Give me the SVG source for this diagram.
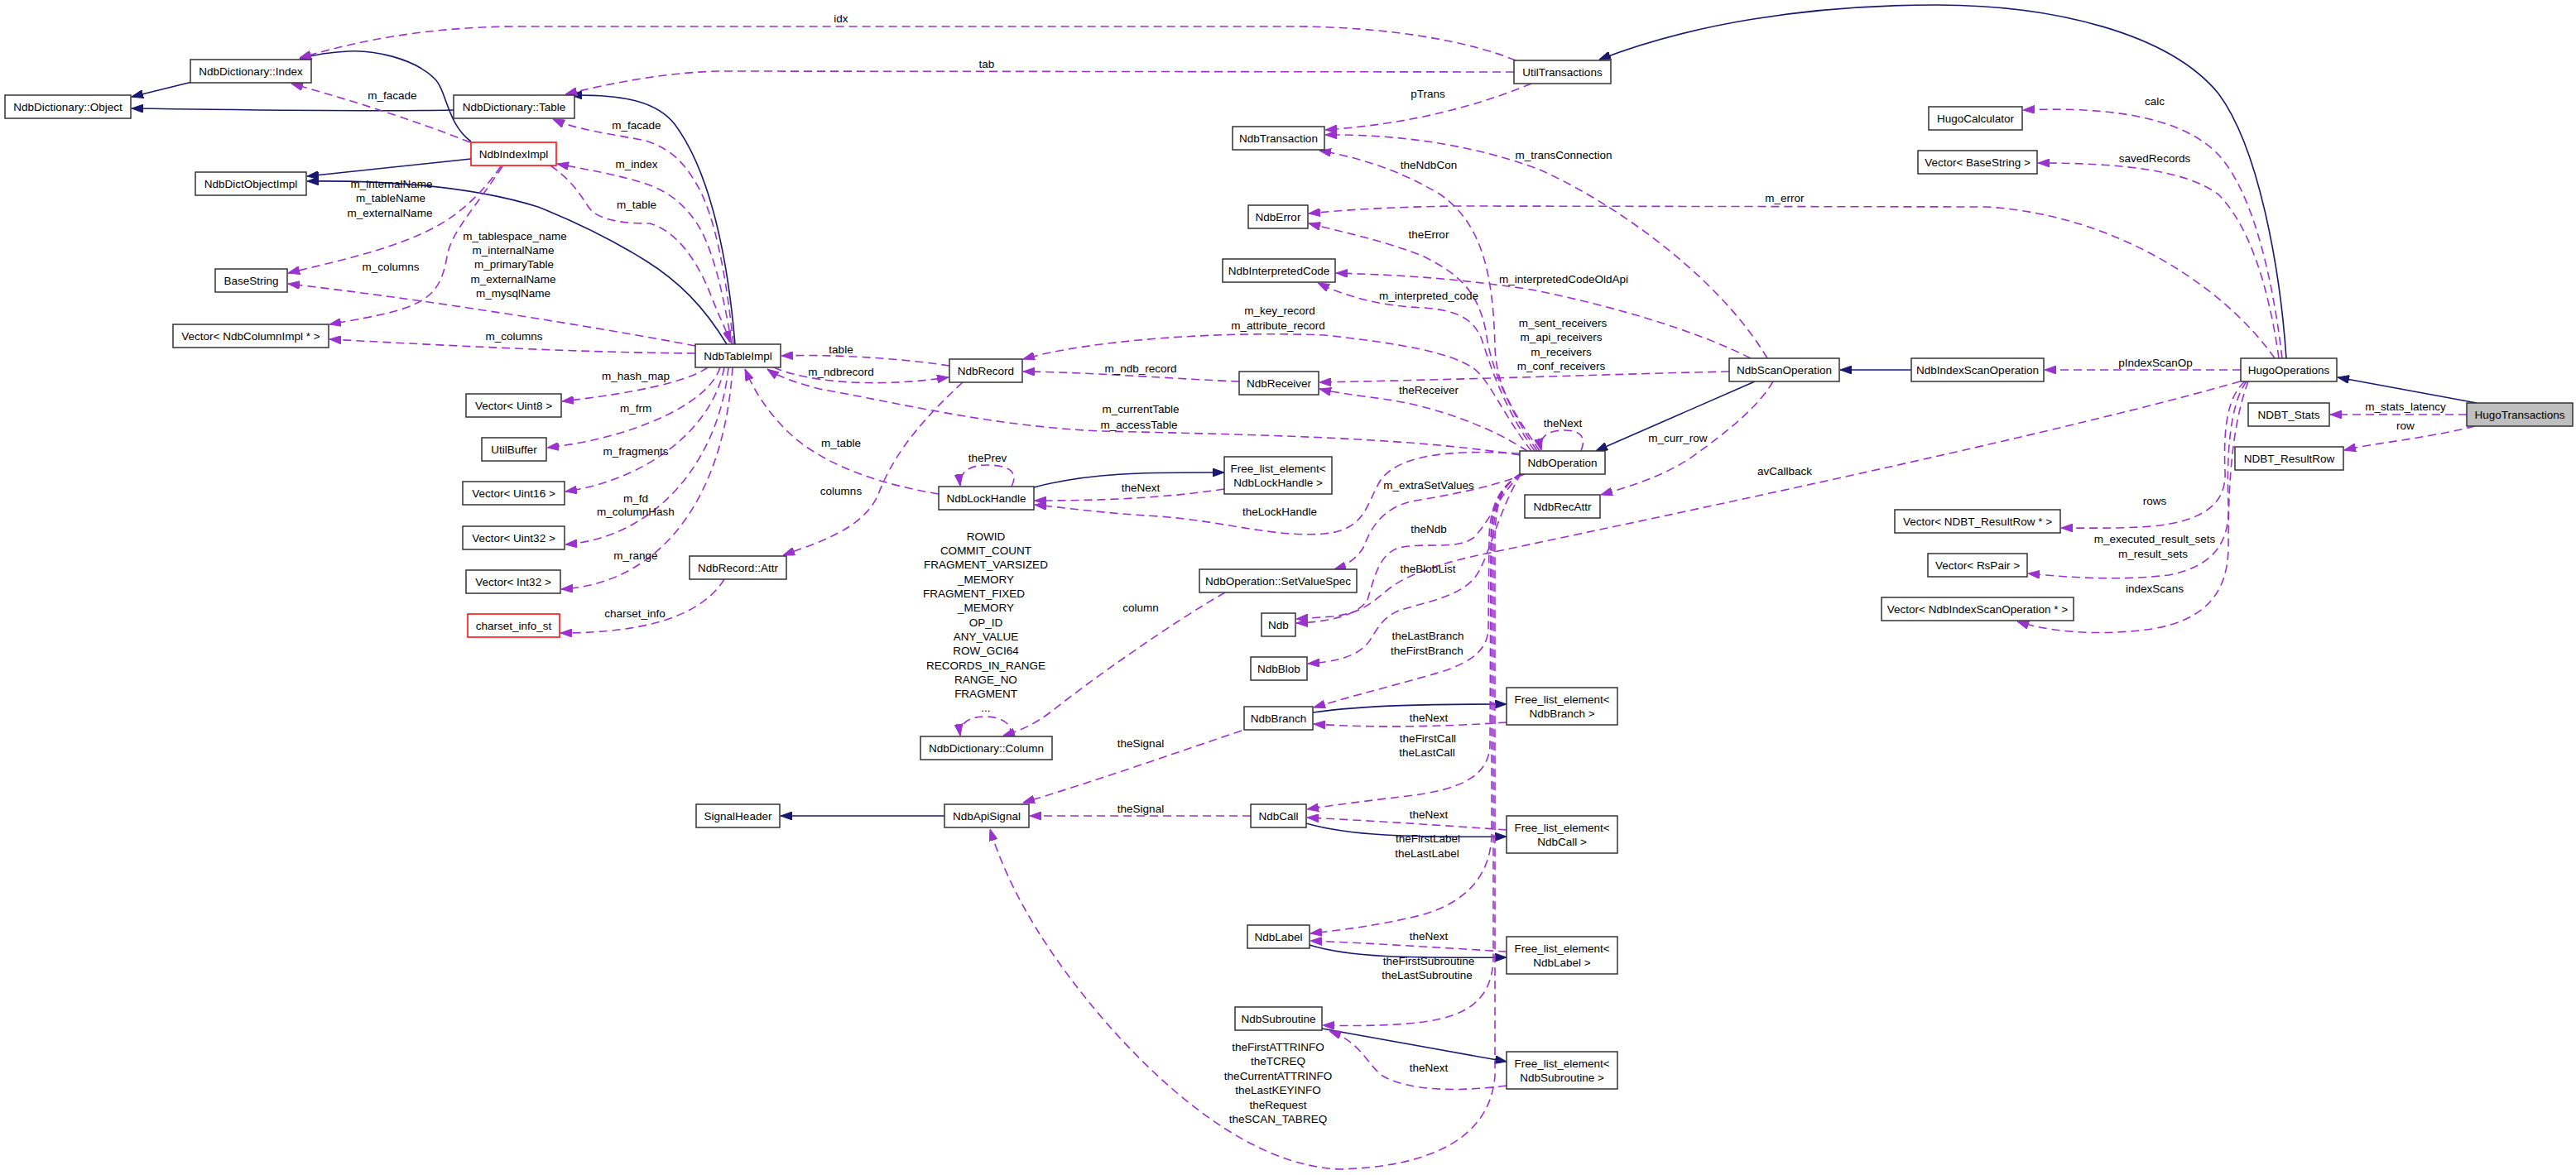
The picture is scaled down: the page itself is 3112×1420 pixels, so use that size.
<svg xmlns="http://www.w3.org/2000/svg" width="3112" height="1420" viewBox="0 0 3112 1420">
<style>
text{font-family:"Liberation Sans",Arial,sans-serif;font-size:13.5px;fill:#000}
.n text{text-anchor:middle}
.n rect{fill:#fff;stroke:#333;stroke-width:1.5}
.n.red rect{stroke:#ff0000}
.n.cur rect{fill:#bfbfbf}
.inh{fill:none;stroke:#191970;stroke-width:1.6;marker-end:url(#ah)}
.use{fill:none;stroke:#9a32cd;stroke-width:1.6;stroke-dasharray:10,6;marker-end:url(#ad)}
.lbl text{text-anchor:middle}
</style>
<defs>
<marker id="ah" viewBox="0 0 14 10" refX="14" refY="5" markerWidth="14" markerHeight="10" markerUnits="userSpaceOnUse" orient="auto"><path d="M0,0 L14,5 L0,10 z" fill="#191970" stroke="#191970" stroke-width="1"/></marker>
<marker id="ad" viewBox="0 0 14 10" refX="14" refY="5" markerWidth="14" markerHeight="10" markerUnits="userSpaceOnUse" orient="auto"><path d="M0,0 L14,5 L0,10 z" fill="#9a32cd" stroke="#9a32cd" stroke-width="1"/></marker>
</defs>
<rect width="3112" height="1420" fill="#fff"/>

<g id="edges">
<!-- inheritance -->
<path class="inh" d="M232,99 L159,117"/>
<path class="inh" d="M548,133 C450,135 300,133 159,131"/>
<path class="inh" d="M569,171 C540,150 540,110 525,95 C500,70 450,60 420,62 C400,63 380,66 362,71"/>
<path class="inh" d="M569,192 L371,213"/>
<path class="inh" d="M878,416 C850,370 820,340 780,315 C740,290 700,270 650,250 C570,225 470,218 371,219"/>
<path class="inh" d="M888,416 C880,320 860,210 815,150 C795,125 760,114 689,115"/>
<path class="inh" d="M2762,433 C2755,330 2730,180 2680,113 C2620,40 2480,6 2340,6 C2180,6 2040,30 1932,72"/>
<path class="inh" d="M2992,487 L2824,456"/>
<path class="inh" d="M2309,447 L2223,447"/>
<path class="inh" d="M2120,461 L1928,545"/>
<path class="inh" d="M1249,589 C1320,570 1390,571 1479,571"/>
<path class="inh" d="M1586,861 C1650,852 1730,851 1820,851"/>
<path class="inh" d="M1578,995 C1630,1010 1700,1012 1820,1011"/>
<path class="inh" d="M1582,1142 C1630,1157 1700,1158 1820,1157"/>
<path class="inh" d="M1597,1243 L1820,1283"/>
<path class="inh" d="M1141,986 L943,986"/>

<!-- usage -->
<path class="use" d="M1831,73 C1770,48 1670,32 1560,32 L620,32 C520,33 440,47 362,70"/>
<path class="use" d="M1829,87 L870,86 C820,87 760,95 683,114"/>
<path class="use" d="M568,172 C500,145 420,120 352,101"/>
<path class="use" d="M886,416 C878,340 865,260 840,220 C825,195 810,180 780,170 C740,162 700,158 668,144"/>
<path class="use" d="M884,416 C876,370 865,310 845,275 C830,250 810,232 780,222 C750,212 710,205 673,198"/>
<path class="use" d="M665,200 C700,225 705,245 715,255 C730,268 760,270 785,270 C820,280 845,320 860,360 C872,390 878,400 882,414"/>
<path class="use" d="M605,201 C585,230 560,255 530,272 C480,300 410,315 348,330"/>
<path class="use" d="M607,201 C575,250 545,280 540,310 C533,350 520,365 470,378 C440,385 420,388 398,392"/>
<path class="use" d="M840,418 C720,395 500,360 348,343"/>
<path class="use" d="M840,427 C700,426 550,418 398,410"/>
<path class="use" d="M855,444 C830,462 760,476 679,485"/>
<path class="use" d="M870,444 C855,490 760,530 661,541"/>
<path class="use" d="M875,444 C860,520 780,580 683,594"/>
<path class="use" d="M880,444 C868,560 790,650 683,658"/>
<path class="use" d="M885,444 C875,600 800,705 678,712"/>
<path class="use" d="M875,700 C850,740 790,765 677,765"/>
<path class="use" d="M1147,442 C1080,432 1000,428 944,430"/>
<path class="use" d="M935,444 C970,460 1050,470 1146,456"/>
<path class="use" d="M1163,462 C1100,520 1075,560 1060,600 C1040,640 990,655 946,671"/>
<path class="use" d="M1134,597 C1060,585 990,560 950,520 C925,495 910,470 900,446"/>
<path class="use" d="M1222,588 C1232,568 1215,562 1192,562 C1170,562 1158,572 1160,587"/>
<path class="use" d="M1479,591 C1400,603 1320,605 1250,605"/>
<path class="use" d="M1836,550 C1700,528 1500,525 1330,521 C1200,515 1100,490 990,470 C960,462 940,455 927,446"/>
<path class="use" d="M1836,548 C1750,543 1690,550 1668,580 C1650,610 1650,640 1600,645 C1540,650 1480,630 1400,624 C1330,620 1290,614 1250,610"/>
<path class="use" d="M1480,716 C1420,750 1320,820 1270,860 C1250,875 1235,882 1212,889"/>
<path class="use" d="M1220,890 C1225,875 1210,866 1190,866 C1170,866 1158,875 1160,889"/>
<path class="use" d="M1850,101 C1780,130 1700,150 1601,157"/>
<path class="use" d="M2135,433 C2080,340 1960,250 1860,205 C1780,175 1690,162 1601,163"/>
<path class="use" d="M1860,545 C1830,500 1808,470 1806,420 C1804,330 1790,270 1740,235 C1690,205 1640,190 1594,182"/>
<path class="use" d="M2748,433 C2690,350 2560,260 2400,250 L1760,249 C1680,250 1620,254 1581,258"/>
<path class="use" d="M1857,545 C1820,490 1800,440 1795,400 C1785,350 1760,330 1720,310 C1670,290 1620,280 1581,270"/>
<path class="use" d="M2115,433 C2050,400 1950,370 1850,350 C1750,335 1680,332 1614,330"/>
<path class="use" d="M1854,545 C1815,490 1800,440 1790,410 C1780,385 1760,375 1720,372 C1670,370 1630,360 1592,342"/>
<path class="use" d="M1850,545 C1815,500 1800,460 1780,445 C1750,425 1690,415 1600,405 C1480,400 1320,410 1236,434"/>
<path class="use" d="M1497,461 C1420,458 1320,450 1236,449"/>
<path class="use" d="M2089,449 C1950,452 1800,458 1594,462"/>
<path class="use" d="M1845,545 C1800,515 1730,490 1670,482 C1640,478 1610,474 1594,470"/>
<path class="use" d="M1910,545 C1918,525 1905,520 1890,520 C1870,520 1858,528 1862,544"/>
<path class="use" d="M2142,461 C2125,490 2090,520 2040,555 C2000,580 1960,590 1934,598"/>
<path class="use" d="M1842,573 C1800,590 1740,600 1710,605 C1670,612 1655,640 1648,660 C1640,675 1625,684 1612,688"/>
<path class="use" d="M1838,572 C1810,600 1800,630 1780,650 C1760,665 1720,655 1690,662 C1665,670 1660,700 1652,725 C1640,745 1600,752 1566,753"/>
<path class="use" d="M2706,461 C2500,520 2100,605 1800,668 C1740,680 1700,695 1680,710 C1660,725 1650,740 1610,745 L1566,748"/>
<path class="use" d="M1838,572 C1808,620 1798,680 1780,700 C1760,722 1720,728 1690,738 C1665,748 1660,770 1650,780 C1635,795 1610,800 1580,802"/>
<path class="use" d="M1838,572 C1812,588 1800,610 1799,650 L1798,760 C1797,790 1770,805 1720,818 C1670,832 1620,845 1587,855"/>
<path class="use" d="M1820,873 C1750,878 1660,880 1587,875"/>
<path class="use" d="M1500,883 C1420,910 1320,945 1236,970"/>
<path class="use" d="M1838,572 C1812,588 1802,610 1801,650 L1800,900 C1799,940 1760,955 1700,962 C1650,968 1610,973 1579,978"/>
<path class="use" d="M1820,1003 C1750,998 1660,992 1579,988"/>
<path class="use" d="M1511,986 L1244,986"/>
<path class="use" d="M1838,572 C1812,588 1803,610 1802,650 L1802,1010 C1800,1060 1770,1090 1720,1105 C1670,1118 1620,1124 1583,1128"/>
<path class="use" d="M1820,1150 C1750,1146 1660,1140 1583,1137"/>
<path class="use" d="M1838,572 C1812,588 1805,610 1804,650 L1804,1160 C1802,1210 1770,1228 1720,1235 C1680,1240 1630,1240 1598,1239"/>
<path class="use" d="M1820,1312 C1760,1320 1700,1318 1670,1300 C1650,1285 1645,1260 1606,1246"/>
<path class="use" d="M1838,572 C1812,588 1807,610 1806,650 L1806,1300 C1800,1380 1720,1410 1620,1413 C1520,1410 1420,1330 1340,1240 C1270,1160 1220,1080 1196,1002"/>
<path class="use" d="M2757,433 C2745,330 2720,230 2680,187 C2640,145 2560,128 2444,133"/>
<path class="use" d="M2753,433 C2740,340 2715,270 2680,235 C2640,205 2560,197 2462,197"/>
<path class="use" d="M2707,447 L2470,447"/>
<path class="use" d="M2712,461 C2690,480 2686,520 2688,570 C2690,610 2660,630 2600,636 C2560,639 2520,638 2490,638"/>
<path class="use" d="M2714,461 C2692,490 2690,560 2692,610 C2694,660 2670,685 2620,695 C2560,702 2500,698 2450,693"/>
<path class="use" d="M2716,461 C2694,520 2692,600 2692,660 C2692,720 2660,750 2600,760 C2530,770 2470,762 2437,751"/>
<path class="use" d="M2980,501 L2815,501"/>
<path class="use" d="M2990,515 C2930,530 2870,535 2832,544"/>
</g>

<g id="edge-labels" class="lbl">
<text x="1016" y="27">idx</text>
<text x="1192" y="82">tab</text>
<text x="474" y="120">m_facade</text>
<text x="769" y="156">m_facade</text>
<text x="769" y="203">m_index</text>
<text x="769" y="252">m_table</text>
<text x="473" y="227">m_internalName</text>
<text x="472" y="244">m_tableName</text>
<text x="471" y="262">m_externalName</text>
<text x="472" y="327">m_columns</text>
<text x="622" y="290">m_tablespace_name</text>
<text x="620" y="307">m_internalName</text>
<text x="621" y="324">m_primaryTable</text>
<text x="620" y="342">m_externalName</text>
<text x="620" y="359">m_mysqlName</text>
<text x="621" y="411">m_columns</text>
<text x="768" y="459">m_hash_map</text>
<text x="768" y="498">m_frm</text>
<text x="768" y="550">m_fragments</text>
<text x="768" y="607">m_fd</text>
<text x="768" y="623">m_columnHash</text>
<text x="768" y="676">m_range</text>
<text x="767" y="746">charset_info</text>
<text x="1016" y="427">table</text>
<text x="1016" y="454">m_ndbrecord</text>
<text x="1016" y="540">m_table</text>
<text x="1016" y="598">columns</text>
<text x="1193" y="558">thePrev</text>
<text x="1378" y="594">theNext</text>
<text x="1378" y="499">m_currentTable</text>
<text x="1376" y="518">m_accessTable</text>
<text x="1191" y="653">ROWID</text>
<text x="1191" y="670">COMMIT_COUNT</text>
<text x="1191" y="687">FRAGMENT_VARSIZED</text>
<text x="1191" y="705">_MEMORY</text>
<text x="1115" y="722" style="text-anchor:start">FRAGMENT_FIXED</text>
<text x="1191" y="739">_MEMORY</text>
<text x="1191" y="757">OP_ID</text>
<text x="1191" y="774">ANY_VALUE</text>
<text x="1191" y="791">ROW_GCI64</text>
<text x="1191" y="809">RECORDS_IN_RANGE</text>
<text x="1191" y="826">RANGE_NO</text>
<text x="1191" y="843">FRAGMENT</text>
<text x="1191" y="860">...</text>
<text x="1378" y="739">column</text>
<text x="1378" y="903">theSignal</text>
<text x="1378" y="982">theSignal</text>
<text x="1725" y="118">pTrans</text>
<text x="1889" y="192">m_transConnection</text>
<text x="1726" y="204">theNdbCon</text>
<text x="2156" y="244">m_error</text>
<text x="1726" y="288">theError</text>
<text x="1889" y="342">m_interpretedCodeOldApi</text>
<text x="1726" y="362">m_interpreted_code</text>
<text x="1546" y="380">m_key_record</text>
<text x="1544" y="398">m_attribute_record</text>
<text x="1378" y="450">m_ndb_record</text>
<text x="1888" y="395">m_sent_receivers</text>
<text x="1886" y="412">m_api_receivers</text>
<text x="1886" y="430">m_receivers</text>
<text x="1886" y="447">m_conf_receivers</text>
<text x="1726" y="476">theReceiver</text>
<text x="1888" y="516">theNext</text>
<text x="2027" y="534">m_curr_row</text>
<text x="1726" y="591">m_extraSetValues</text>
<text x="2156" y="574">avCallback</text>
<text x="1546" y="623">theLockHandle</text>
<text x="1726" y="644">theNdb</text>
<text x="1725" y="692">theBlobList</text>
<text x="1725" y="773">theLastBranch</text>
<text x="1724" y="791">theFirstBranch</text>
<text x="1726" y="872">theNext</text>
<text x="1725" y="897">theFirstCall</text>
<text x="1724" y="914">theLastCall</text>
<text x="1726" y="989">theNext</text>
<text x="1725" y="1018">theFirstLabel</text>
<text x="1724" y="1036">theLastLabel</text>
<text x="1726" y="1136">theNext</text>
<text x="1726" y="1166">theFirstSubroutine</text>
<text x="1724" y="1183">theLastSubroutine</text>
<text x="1726" y="1295">theNext</text>
<text x="1544" y="1270">theFirstATTRINFO</text>
<text x="1544" y="1287">theTCREQ</text>
<text x="1544" y="1305">theCurrentATTRINFO</text>
<text x="1544" y="1322">theLastKEYINFO</text>
<text x="1544" y="1340">theRequest</text>
<text x="1544" y="1357">theSCAN_TABREQ</text>
<text x="2603" y="127">calc</text>
<text x="2603" y="196">savedRecords</text>
<text x="2604" y="443">pIndexScanOp</text>
<text x="2906" y="496">m_stats_latency</text>
<text x="2906" y="519">row</text>
<text x="2603" y="610">rows</text>
<text x="2603" y="656">m_executed_result_sets</text>
<text x="2601" y="674">m_result_sets</text>
<text x="2603" y="716">indexScans</text>
</g>

<g id="nodes">
<g id="n-Index" class="n"><rect x="230" y="72" width="146" height="28"/><text x="303" y="91">NdbDictionary::Index</text></g>
<g id="n-Object" class="n"><rect x="6" y="115" width="152" height="28"/><text x="82" y="134">NdbDictionary::Object</text></g>
<g id="n-Table" class="n"><rect x="548" y="115" width="146" height="28"/><text x="621" y="134">NdbDictionary::Table</text></g>
<g id="n-IndexImpl" class="n red"><rect x="569" y="172" width="103" height="28"/><text x="620.5" y="191">NdbIndexImpl</text></g>
<g id="n-DictObjectImpl" class="n"><rect x="236" y="208" width="134" height="28"/><text x="303" y="227">NdbDictObjectImpl</text></g>
<g id="n-BaseString" class="n"><rect x="260" y="325" width="87" height="28"/><text x="303.5" y="344">BaseString</text></g>
<g id="n-VecColumnImpl" class="n"><rect x="209" y="392" width="188" height="28"/><text x="303" y="411">Vector&lt; NdbColumnImpl * &gt;</text></g>
<g id="n-TableImpl" class="n"><rect x="840" y="416" width="103" height="28"/><text x="891.5" y="435">NdbTableImpl</text></g>
<g id="n-VecUint8" class="n"><rect x="563" y="476" width="115" height="28"/><text x="620.5" y="495">Vector&lt; Uint8 &gt;</text></g>
<g id="n-UtilBuffer" class="n"><rect x="582" y="529" width="78" height="28"/><text x="621" y="548">UtilBuffer</text></g>
<g id="n-VecUint16" class="n"><rect x="559" y="582" width="123" height="28"/><text x="620.5" y="601">Vector&lt; Uint16 &gt;</text></g>
<g id="n-VecUint32" class="n"><rect x="559" y="636" width="123" height="28"/><text x="620.5" y="655">Vector&lt; Uint32 &gt;</text></g>
<g id="n-VecInt32" class="n"><rect x="563" y="689" width="114" height="28"/><text x="620" y="708">Vector&lt; Int32 &gt;</text></g>
<g id="n-charset" class="n red"><rect x="565" y="742" width="111" height="28"/><text x="620.5" y="761">charset_info_st</text></g>
<g id="n-RecordAttr" class="n"><rect x="833" y="672" width="117" height="28"/><text x="891.5" y="691">NdbRecord::Attr</text></g>
<g id="n-Record" class="n"><rect x="1147" y="434" width="88" height="28"/><text x="1191" y="453">NdbRecord</text></g>
<g id="n-LockHandle" class="n"><rect x="1134" y="588" width="115" height="28"/><text x="1191.5" y="607">NdbLockHandle</text></g>
<g id="n-FreeLock" class="n"><rect x="1479" y="552" width="130" height="45"/><text x="1544" y="570.5">Free_list_element&lt;</text><text x="1544" y="587.5">NdbLockHandle &gt;</text></g>
<g id="n-Column" class="n"><rect x="1112" y="890" width="159" height="28"/><text x="1191.5" y="909">NdbDictionary::Column</text></g>
<g id="n-SignalHeader" class="n"><rect x="841" y="972" width="101" height="28"/><text x="891.5" y="991">SignalHeader</text></g>
<g id="n-ApiSignal" class="n"><rect x="1141" y="972" width="102" height="28"/><text x="1192" y="991">NdbApiSignal</text></g>
<g id="n-Transaction" class="n"><rect x="1489" y="153" width="111" height="28"/><text x="1544.5" y="172">NdbTransaction</text></g>
<g id="n-Error" class="n"><rect x="1508" y="248" width="72" height="28"/><text x="1544" y="267">NdbError</text></g>
<g id="n-InterpretedCode" class="n"><rect x="1477" y="313" width="136" height="28"/><text x="1545" y="332">NdbInterpretedCode</text></g>
<g id="n-Receiver" class="n"><rect x="1497" y="449" width="96" height="28"/><text x="1545" y="468">NdbReceiver</text></g>
<g id="n-SetValueSpec" class="n"><rect x="1449" y="688" width="190" height="28"/><text x="1544" y="707">NdbOperation::SetValueSpec</text></g>
<g id="n-Ndb" class="n"><rect x="1524" y="741" width="41" height="28"/><text x="1544.5" y="760">Ndb</text></g>
<g id="n-Blob" class="n"><rect x="1511" y="794" width="68" height="28"/><text x="1545" y="813">NdbBlob</text></g>
<g id="n-Branch" class="n"><rect x="1503" y="854" width="83" height="28"/><text x="1544.5" y="873">NdbBranch</text></g>
<g id="n-Call" class="n"><rect x="1511" y="972" width="67" height="28"/><text x="1544.5" y="991">NdbCall</text></g>
<g id="n-Label" class="n"><rect x="1507" y="1118" width="75" height="28"/><text x="1544.5" y="1137">NdbLabel</text></g>
<g id="n-Subroutine" class="n"><rect x="1492" y="1217" width="105" height="28"/><text x="1544.5" y="1236">NdbSubroutine</text></g>
<g id="n-UtilTransactions" class="n"><rect x="1829" y="73" width="117" height="28"/><text x="1887.5" y="92">UtilTransactions</text></g>
<g id="n-Operation" class="n"><rect x="1836" y="545" width="103" height="28"/><text x="1887.5" y="564">NdbOperation</text></g>
<g id="n-RecAttr" class="n"><rect x="1842" y="598" width="91" height="28"/><text x="1887.5" y="617">NdbRecAttr</text></g>
<g id="n-FreeBranch" class="n"><rect x="1820" y="831" width="134" height="45"/><text x="1887" y="849.5">Free_list_element&lt;</text><text x="1887" y="866.5">NdbBranch &gt;</text></g>
<g id="n-FreeCall" class="n"><rect x="1820" y="986" width="134" height="45"/><text x="1887" y="1004.5">Free_list_element&lt;</text><text x="1887" y="1021.5">NdbCall &gt;</text></g>
<g id="n-FreeLabel" class="n"><rect x="1820" y="1132" width="134" height="45"/><text x="1887" y="1150.5">Free_list_element&lt;</text><text x="1887" y="1167.5">NdbLabel &gt;</text></g>
<g id="n-FreeSub" class="n"><rect x="1820" y="1271" width="134" height="45"/><text x="1887" y="1289.5">Free_list_element&lt;</text><text x="1887" y="1306.5">NdbSubroutine &gt;</text></g>
<g id="n-ScanOp" class="n"><rect x="2089" y="433" width="133" height="28"/><text x="2155.5" y="452">NdbScanOperation</text></g>
<g id="n-IndexScanOp" class="n"><rect x="2309" y="433" width="160" height="28"/><text x="2389" y="452">NdbIndexScanOperation</text></g>
<g id="n-HugoCalc" class="n"><rect x="2330" y="129" width="113" height="28"/><text x="2386.5" y="148">HugoCalculator</text></g>
<g id="n-VecBaseString" class="n"><rect x="2317" y="182" width="144" height="28"/><text x="2389" y="201">Vector&lt; BaseString &gt;</text></g>
<g id="n-VecResultRow" class="n"><rect x="2289" y="616" width="200" height="28"/><text x="2389" y="635">Vector&lt; NDBT_ResultRow * &gt;</text></g>
<g id="n-VecRsPair" class="n"><rect x="2329" y="669" width="120" height="28"/><text x="2389" y="688">Vector&lt; RsPair &gt;</text></g>
<g id="n-VecIndexScan" class="n"><rect x="2273" y="722" width="232" height="28"/><text x="2389" y="741">Vector&lt; NdbIndexScanOperation * &gt;</text></g>
<g id="n-HugoOps" class="n"><rect x="2707" y="433" width="116" height="28"/><text x="2765" y="452">HugoOperations</text></g>
<g id="n-NDBTStats" class="n"><rect x="2716" y="487" width="98" height="28"/><text x="2765" y="506">NDBT_Stats</text></g>
<g id="n-NDBTResultRow" class="n"><rect x="2700" y="540" width="131" height="28"/><text x="2765.5" y="559">NDBT_ResultRow</text></g>
<g id="n-HugoTrans" class="n cur"><rect x="2980" y="487" width="128" height="28"/><text x="3044" y="506">HugoTransactions</text></g>
</g>
</svg>
